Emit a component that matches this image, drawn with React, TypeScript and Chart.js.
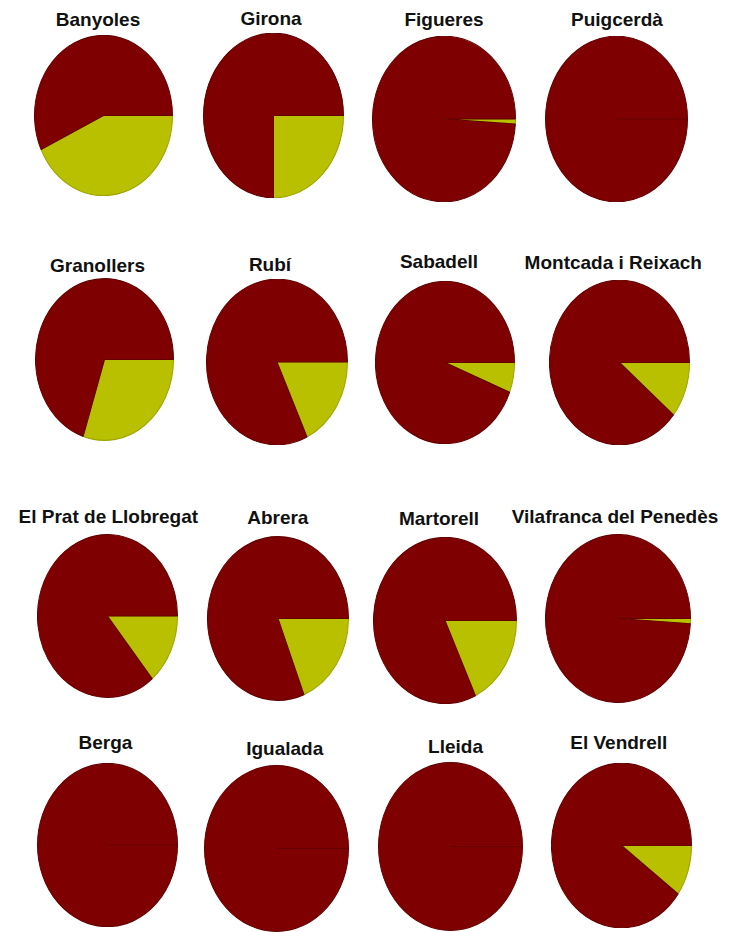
import React, { useEffect, useRef } from "react";
import { Chart, registerables } from "chart.js";

Chart.register(...registerables);

// ---- data ----
const cities = [
  "Banyoles", "Girona", "Figueres", "Puigcerdà",
  "Granollers", "Rubí", "Sabadell", "Montcada i Reixach",
  "El Prat de Llobregat", "Abrera", "Martorell", "Vilafranca del Penedès",
  "Berga", "Igualada", "Lleida", "El Vendrell",
];
const sliceLabels = ["Grup A", "Grup B"];
const yellowShare = [43, 25, 1, 0, 30, 18, 6, 11, 14, 19, 18, 1, 0, 0, 0, 10];
const maroonShare = [57, 75, 99, 100, 70, 82, 94, 89, 86, 81, 82, 99, 100, 100, 100, 90];

// ---- layout (page pixels) ----
const pieCx = [103.5, 273.7, 444, 616.7, 104.7, 276.7, 445, 619.7, 107, 277.5, 444.5, 618, 107, 276.7, 450, 621.2];
const pieCy = [115.7, 115.6, 119.3, 119.3, 359.8, 361.5, 362.2, 362.4, 615.8, 618, 620.8, 618.3, 845, 848.3, 846.7, 845.7];
const pieRx = [68.5, 69.7, 70.8, 70.7, 68.7, 70, 69, 69.7, 69.7, 70.2, 71.2, 72, 69.7, 71.7, 71.7, 69.5];
const pieRy = [79.5, 81.7, 82.2, 82.2, 80.3, 82.2, 80.5, 81.7, 80.8, 81.3, 82.5, 83.3, 81, 82.3, 83.3, 81.7];
const titleX = [98, 271, 444, 617, 97.5, 270, 439, 613.3, 108.3, 277.8, 439, 615, 105.5, 284.7, 455.5, 618.8];
const titleBase = [26, 24.5, 26, 26, 271.5, 270.5, 267.5, 268.5, 522.7, 524.3, 525, 522.7, 749.3, 755, 753.3, 749.3];

// ---- styles ----
const yellowColor = "#b8c000";
const maroonColor = "#7e0000";
const yellowBorder = "#9ea400";
const maroonBorder = "#650000";
const titleFontSize = 19;

const ellipsePlugin = {
  id: "ellipse",
  beforeDatasetsDraw(chart: any, _args: any, opts: any) {
    const { ctx, chartArea } = chart;
    const cx = (chartArea.left + chartArea.right) / 2;
    const cy = (chartArea.top + chartArea.bottom) / 2;
    ctx.save();
    ctx.translate(cx, cy);
    ctx.scale(1, opts.sy || 1);
    ctx.translate(-cx, -cy);
  },
  afterDatasetsDraw(chart: any) {
    chart.ctx.restore();
  },
};

function boxFor(i: number) {
  const W = Math.round(2 * pieRx[i]) + 2;
  const H = Math.round(2 * pieRy[i]) + 2;
  const left = Math.round(pieCx[i] - W / 2);
  const top = Math.round(pieCy[i] - H / 2);
  return { W, H, left, top };
}

export default function App() {
  const refs = useRef<(HTMLCanvasElement | null)[]>([]);

  useEffect(() => {
    const charts = cities.map((city, i) => {
      const canvas = refs.current[i]!;
      const { W } = boxFor(i);
      const radius = (W - 2) / 2;
      return new Chart(canvas, {
        type: "pie",
        data: {
          labels: sliceLabels,
          datasets: [
            {
              label: city,
              data: [yellowShare[i], maroonShare[i]],
              backgroundColor: [yellowColor, maroonColor],
              borderColor: [yellowBorder, maroonBorder],
              borderWidth: 1,
              hoverOffset: 0,
              offset: 0,
            },
          ],
        },
        options: {
          responsive: false,
          maintainAspectRatio: false,
          animation: false,
          devicePixelRatio: 1,
          events: [],
          rotation: 90,
          layout: { padding: 0 },
          plugins: {
            legend: { display: false },
            tooltip: { enabled: false },
            title: { display: false },
            ellipse: { sy: pieRy[i] / radius },
          } as any,
        },
        plugins: [ellipsePlugin],
      });
    });
    return () => charts.forEach((c) => c.destroy());
  }, []);

  return (
    <div
      style={{
        position: "absolute",
        left: 0,
        top: 0,
        width: 741,
        height: 932,
        background: "#ffffff",
        overflow: "hidden",
      }}
    >
      {cities.map((city, i) => {
        const { W, H, left, top } = boxFor(i);
        return (
          <React.Fragment key={city}>
            <div
              style={{
                position: "absolute",
                left: titleX[i] - 150,
                width: 300,
                top: titleBase[i] - 16,
                height: titleFontSize,
                lineHeight: "1",
                textAlign: "center",
                fontFamily: '"Liberation Sans", Arial, sans-serif',
                fontWeight: "bold",
                fontSize: titleFontSize,
                color: "#111111",
                whiteSpace: "nowrap",
              }}
            >
              {city}
            </div>
            <canvas
              ref={(el) => {
                refs.current[i] = el;
              }}
              width={W}
              height={H}
              style={{
                position: "absolute",
                left,
                top,
                width: W,
                height: H,
                display: "block",
              }}
            />
          </React.Fragment>
        );
      })}
    </div>
  );
}
